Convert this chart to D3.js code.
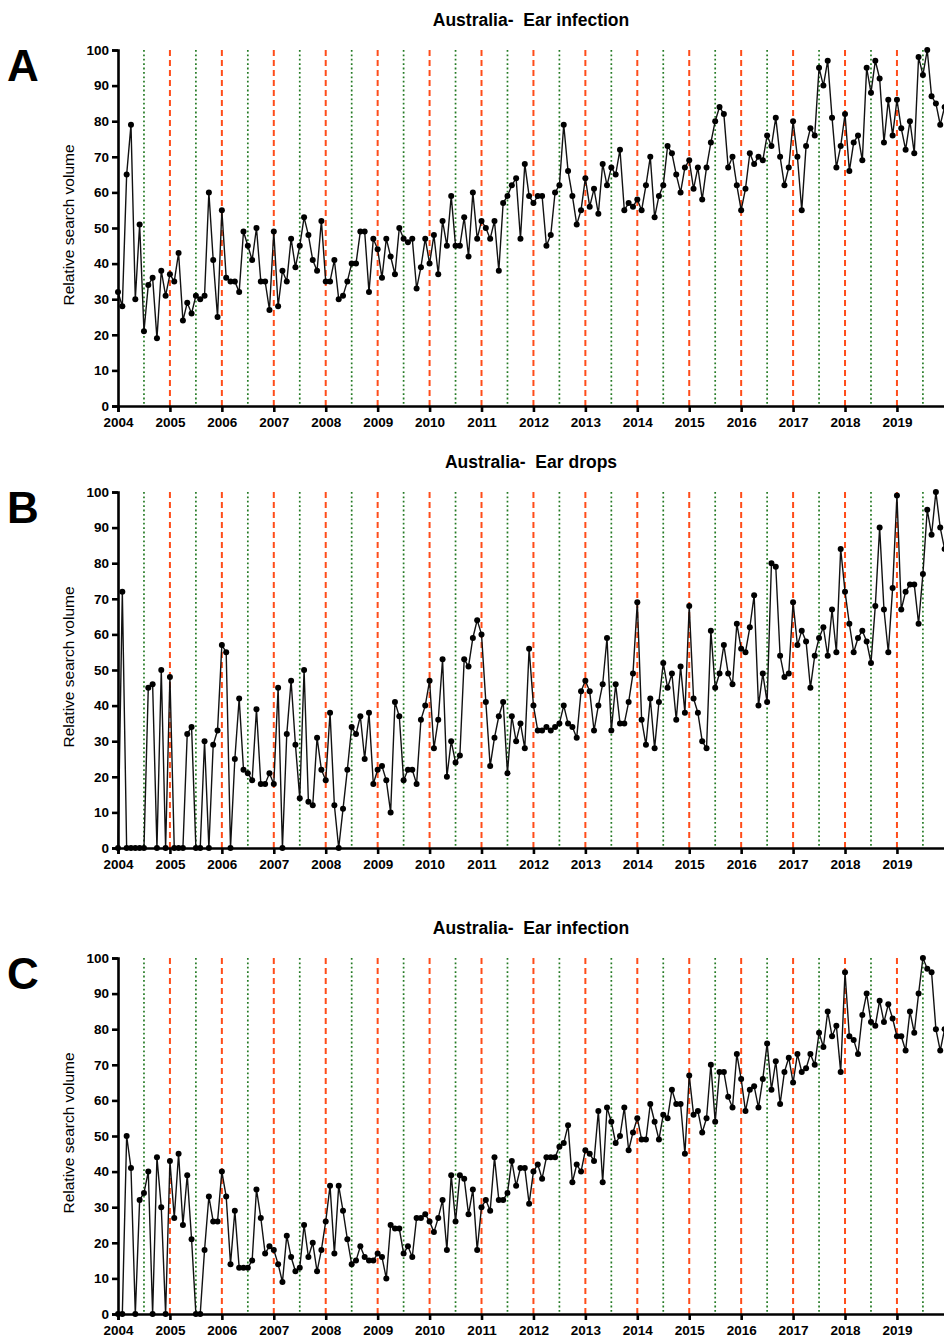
<!DOCTYPE html>
<html>
<head>
<meta charset="utf-8">
<script src="https://cdn.jsdelivr.net/npm/d3@7"></script>
<style>
  body { margin: 0; background: #fff; }
  svg { display: block; font-family: "Liberation Sans", Arial, sans-serif; }
</style>
</head>
<body>
<script>
// monthly values, Jan 2004 .. Dec 2019, one row per year
const infectionA = [
  32,28,65,79,30,51,21,34,36,19,38,31,
  37,35,43,24,29,26,31,30,31,60,41,25,
  55,36,35,35,32,49,45,41,50,35,35,27,
  49,28,38,35,47,39,45,53,48,41,38,52,
  35,35,41,30,31,35,40,40,49,49,32,47,
  44,36,47,42,37,50,47,46,47,33,39,47,
  40,48,37,52,45,59,45,45,53,42,60,47,
  52,50,47,52,38,57,59,62,64,47,68,59,
  57,59,59,45,48,60,62,79,66,59,51,55,
  64,56,61,54,68,62,67,65,72,55,57,56,
  58,55,62,70,53,59,62,73,71,65,60,67,
  69,61,67,58,67,74,80,84,82,67,70,62,
  55,61,71,68,70,69,76,73,81,70,62,67,
  80,70,55,73,78,76,95,90,97,81,67,73,
  82,66,74,76,69,95,88,97,92,74,86,76,
  86,78,72,80,71,98,93,100,87,85,79,84
];
const earDrops = [
  0,72,0,0,0,0,0,45,46,0,50,0,
  48,0,0,0,32,34,0,0,30,0,29,33,
  57,55,0,25,42,22,21,19,39,18,18,21,
  18,45,0,32,47,29,14,50,13,12,31,22,
  19,38,12,0,11,22,34,32,37,25,38,18,
  22,23,19,10,41,37,19,22,22,18,36,40,
  47,28,36,53,20,30,24,26,53,51,59,64,
  60,41,23,31,37,41,21,37,30,35,28,56,
  40,33,33,34,33,34,35,40,35,34,31,44,
  47,44,33,40,46,59,33,46,35,35,41,49,
  69,36,29,42,28,41,52,45,49,36,51,38,
  68,42,38,30,28,61,45,49,57,49,46,63,
  56,55,62,71,40,49,41,80,79,54,48,49,
  69,57,61,58,45,54,59,62,54,67,55,84,
  72,63,55,59,61,58,52,68,90,67,55,73,
  99,67,72,74,74,63,77,95,88,100,90,84
];
const infectionC = [
  0,0,50,41,0,32,34,40,0,44,30,0,
  43,27,45,25,39,21,0,0,18,33,26,26,
  40,33,14,29,13,13,13,15,35,27,17,19,
  18,14,9,22,16,12,13,25,16,20,12,18,
  26,36,17,36,29,21,14,15,19,16,15,15,
  17,16,10,25,24,24,17,19,16,27,27,28,
  26,23,27,32,18,39,26,39,38,28,35,18,
  30,32,29,44,32,32,34,43,36,41,41,31,
  40,42,38,44,44,44,47,48,53,37,42,40,
  46,45,43,57,37,58,54,48,50,58,46,51,
  55,49,49,59,54,49,56,55,63,59,59,45,
  67,56,57,51,55,70,54,68,68,61,58,73,
  66,57,63,64,58,66,76,63,71,59,68,72,
  65,73,68,69,73,70,79,75,85,78,81,68,
  96,78,77,73,84,90,82,81,88,82,87,83,
  78,78,74,85,79,90,100,97,96,80,74,80
];
const yearTicks = d3.range(2004, 2020);
const valueTicks = d3.range(0, 101, 10);
const panelLetters = ["A", "B", "C"];
const panelTitles = ["Australia-  Ear infection", "Australia-  Ear drops", "Australia-  Ear infection"];
const panelSeries = [infectionA, earDrops, infectionC];

const W = 944, H = 1338;
const left = 118;
const panelTops = [50, 492, 958];
const panelH = 356;

const svg = d3.select("body").append("svg")
  .attr("width", W).attr("height", H);

const x = d3.scaleLinear().domain([2004, 2020]).range([left, left + 16 * 51.93]);

function drawPanel(i) {
  const top = panelTops[i], bottom = top + panelH;
  const y = d3.scaleLinear().domain([0, 100]).range([bottom, top]);
  const data = panelSeries[i].map((v, k) => ({ t: 2004 + k / 12, v }));
  const g = svg.append("g");

  // title, panel letter, y label
  g.append("text")
    .attr("x", 531).attr("y", top - 24)
    .attr("text-anchor", "middle")
    .style("white-space", "pre")
    .attr("font-size", 17.5).attr("font-weight", "bold")
    .text(panelTitles[i]);
  g.append("text")
    .attr("x", 7).attr("y", top + 31)
    .attr("font-size", 44).attr("font-weight", "bold")
    .text(panelLetters[i]);
  g.append("text")
    .attr("transform", `translate(74,${(top + bottom) / 2 - 3}) rotate(-90)`)
    .attr("text-anchor", "middle")
    .attr("font-size", 15.5)
    .text("Relative search volume");

  // year lines (orange dashed) and mid-year lines (green dotted)
  g.selectAll(".yr").data(yearTicks.slice(1)).join("line")
    .attr("x1", d => x(d)).attr("x2", d => x(d))
    .attr("y1", top).attr("y2", bottom)
    .attr("stroke", "#ff4d1a").attr("stroke-width", 2)
    .attr("stroke-dasharray", "6,4");
  g.selectAll(".mid").data(yearTicks).join("line")
    .attr("x1", d => x(d + 0.5)).attr("x2", d => x(d + 0.5))
    .attr("y1", top).attr("y2", bottom)
    .attr("stroke", "#237a23").attr("stroke-width", 1.7)
    .attr("stroke-dasharray", "1.8,2.6");

  const line = d3.line().x(d => x(d.t)).y(d => y(d.v));
  g.append("path").datum(data)
    .attr("d", line)
    .attr("fill", "none").attr("stroke", "#111").attr("stroke-width", 1.4);
  g.selectAll("circle").data(data).join("circle")
    .attr("cx", d => x(d.t)).attr("cy", d => y(d.v))
    .attr("r", 3).attr("fill", "#000");

  const yAxis = g.append("g")
    .attr("transform", `translate(${left},0)`)
    .call(d3.axisLeft(y).tickValues(valueTicks).tickSize(6).tickPadding(3));
  const xAxis = g.append("g")
    .attr("transform", `translate(0,${bottom})`)
    .call(d3.axisBottom(x).tickValues(yearTicks).tickFormat(d3.format("d")).tickSize(6).tickPadding(5));
  [yAxis, xAxis].forEach(a => {
    a.select(".domain").attr("stroke-width", 2.6).attr("stroke", "#000");
    a.selectAll(".tick line").attr("stroke-width", 2.6).attr("stroke", "#000");
    a.selectAll("text").attr("font-size", 13.5).attr("font-weight", "bold")
      .attr("font-family", "Liberation Sans, Arial, sans-serif").attr("fill", "#000");
  });
}

[0, 1, 2].forEach(drawPanel);
</script>
</body>
</html>
